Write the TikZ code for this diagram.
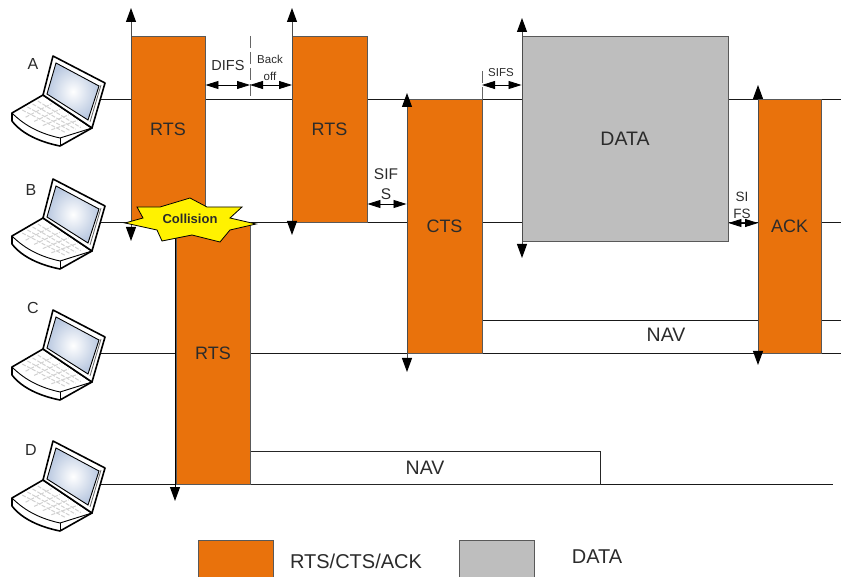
\documentclass[tikz,border=0pt]{standalone}
\usepackage{fontspec}
\setmainfont{Liberation Sans}
\usepackage{xcolor}
\usepackage{tikz}
\usetikzlibrary{positioning,arrows.meta,calc}
\definecolor{rtsorange}{HTML}{E9720C}
\definecolor{datagrey}{HTML}{BEBEBE}
\definecolor{screenblue}{HTML}{B9C8E0}
\definecolor{textgrey}{HTML}{2B2B2B}

\begin{document}
\begin{tikzpicture}[
    x=1pt, y=-1pt,
    every node/.style={text=textgrey, inner sep=0pt},
    frame/.style={draw=black!65, line width=0.9pt, fill=rtsorange,
                  font=\fontsize{18}{20}\selectfont},
    databox/.style={frame, fill=datagrey, font=\fontsize{19.5}{22}\selectfont},
    line/.style={black!90, line width=0.9pt},
    axis/.style={black!70, line width=1pt,
                 {Triangle[length=14pt,width=10pt,black]}-{Triangle[length=14pt,width=10pt,black]}},
    downaxis/.style={black, line width=1pt, -{Triangle[length=14pt,width=10pt,black]}},
    gap/.style={black, line width=0.8pt,
                {Triangle[length=13pt,width=8pt]}-{Triangle[length=13pt,width=8pt]}},
    mark line/.style={black!60, line width=0.9pt, dashed, dash pattern=on 12pt off 4pt},
    host/.style={font=\fontsize{16}{18}\selectfont},
    small/.style={font=\fontsize{14.5}{19}\selectfont, align=center},
    tiny/.style={font=\fontsize{11.5}{17}\selectfont, align=center},
    navlabel/.style={font=\fontsize{19.5}{22}\selectfont},
    laptop/.pic={
        % base, lid, screen
        \draw[black, line width=1.6pt, fill=white, line join=round]
            (12,14) -- (43,-4) -- (92,29) -- (60,47) .. controls (40,43) and (22,35) .. (12,22) -- cycle;
        \draw[black, line width=0.9pt] (12,14) .. controls (26,28) and (42,35) .. (60,39) -- (92,29);
        \draw[black, line width=0.9pt] (60,39) -- (60,47);
        \foreach \k in {0.2,0.4,0.6,0.8} {
            \draw[black!18, line width=1pt, dash pattern=on 4pt off 1.5pt]
                ($(17,14)!\k!(43,-1)$) -- ($(60,35)!\k!(86,27)$);
            \draw[black!18, line width=1pt, dash pattern=on 4pt off 1.5pt]
                ($(17,14)!\k!(60,35)$) -- ($(43,-1)!\k!(86,27)$);
        }
        \draw[black, line width=1.6pt, fill=white, line join=round]
            (53,-43) -- (105,-16) -- (92,29) -- (43,-4) -- cycle;
        \draw[black!60, line width=0.8pt] (101,-14) -- (90,23);
        \draw[black, line width=0.9pt, inner color=white, outer color=screenblue]
            (56,-36) -- (99,-13) -- (88,21) -- (47,-5) -- cycle;
    },
]
\useasboundingbox (0,0) rectangle (841,577);

% ---------------- hosts and their time lines ----------------
\pic at (0,99) {laptop};
\pic at (0,222) {laptop};
\pic at (0,353) {laptop};
\pic at (0,484) {laptop};
\node[host] (hosta) at (33,64) {A};
\node[host] (hostb) at (31,190) {B};
\node[host] (hostc) at (33,308) {C};
\node[host] (hostd) at (31,450) {D};
\coordinate (la) at (101,99);
\coordinate (lb) at (101,222);
\coordinate (lc) at (101,353);
\coordinate (ld) at (101,484);
\coordinate (ea) at (841,99);
\coordinate (eb) at (841,222);
\coordinate (ec) at (841,353);
\coordinate (ed) at (833,484);
\draw[line] (la) -- (ea);
\draw[line] (lb) -- (eb);
\draw[line] (lc) -- (ec);
\draw[line] (ld) -- (ed);

% ---------------- frames ----------------
\coordinate (navstart) at (482,320);
\coordinate (navend) at (841,320);
\draw[line] (navstart) -- (navend);
\node[draw=black!85, line width=0.9pt, minimum width=350pt, minimum height=33pt, navlabel] (nav1) at (425,467.5) {NAV};
\node[frame, minimum width=74pt, minimum height=186pt] (rts1) at (168,129) {RTS};
\node[frame, minimum width=75pt, minimum height=186pt] (rts2) at (329.5,129) {RTS};
\node[frame, minimum width=75pt, minimum height=254pt] (cts) at (444.5,226) {CTS};
\node[databox, minimum width=206pt, minimum height=205pt] (data) at (625,138.5) {DATA};
\node[frame, minimum width=63pt, minimum height=254pt] (ack) at (789.5,226) {ACK};
\node[frame, minimum width=74pt, minimum height=262pt] (rts3) at (213,353) {RTS};
\node[navlabel] (nav2) at (666,335) {NAV};

% ---------------- axes on the frame edges ----------------
\coordinate (t1) at (131,8);
\coordinate (b1) at (131,241);
\coordinate (t2) at (292,8);
\coordinate (b2) at (292,235);
\coordinate (t3) at (407,93);
\coordinate (b3) at (407,372);
\coordinate (t4) at (522,18);
\coordinate (b4) at (522,258);
\coordinate (t5) at (758,85);
\coordinate (b5) at (758,365);
\coordinate (b6) at (175,501);
\draw[axis] (t1) -- (b1);
\draw[axis] (t2) -- (b2);
\draw[axis] (t3) -- (b3);
\draw[axis] (t4) -- (b4);
\draw[axis] (t5) -- (b5);
\draw[downaxis] (b6 |- lb) -- (b6);

% ---------------- inter frame spaces ----------------
\coordinate (m1) at (250,36);
\coordinate (m2) at (482,71);
\coordinate (ygap1) at (0,85);
\coordinate (ygap2) at (0,204);
\coordinate (ygap3) at (0,223);
\draw[mark line] (m1) -- (m1 |- la);
\draw[mark line] (m2) -- (m2 |- la);
\draw[gap] (rts1.east |- ygap1) -- (m1 |- ygap1);
\draw[gap] (m1 |- ygap1) -- (t2 |- ygap1);
\draw[gap] (rts2.east |- ygap2) -- (cts.west |- ygap2);
\draw[gap] (m2 |- ygap1) -- (data.west |- ygap1);
\draw[gap] (data.east |- ygap3) -- (t5 |- ygap3);
\node[small] (difs) at (228,66) {DIFS};
\node[tiny] (backoff) at (270,68) {Back\\off};
\node[small, font=\fontsize{15.5}{20}\selectfont] (sifs1) at (386,184) {SIF\\S};
\node[tiny] (sifs2) at (501,73) {SIFS};
\node[tiny, font=\fontsize{13.5}{17}\selectfont] (sifs3) at (742,205) {SI\\FS};

% ---------------- collision ----------------
\draw[black, line width=0.8pt, fill=yellow]
    (125,223) -- (143,218) -- (137,207) -- (160,207) -- (190,198) -- (207,207) -- (242,207)
    -- (230,218) -- (256,224) -- (230,230) -- (220,242) -- (192,235) -- (162,241) -- (157,230) -- cycle;
\node[font=\fontsize{13}{15}\selectfont\bfseries] (coll) at (190,219) {Collision};

% ---------------- legend ----------------
\node[frame, minimum width=75pt, minimum height=38pt] (keyrts) at (235.5,559) {};
\node[databox, minimum width=75pt, minimum height=38pt] (keydata) at (497,559) {};
\node[font=\fontsize{20}{22}\selectfont] (keyrtstext) at (356,561) {RTS/CTS/ACK};
\node[font=\fontsize{20}{22}\selectfont] (keydatatext) at (597,557) {DATA};
\end{tikzpicture}
\end{document}
